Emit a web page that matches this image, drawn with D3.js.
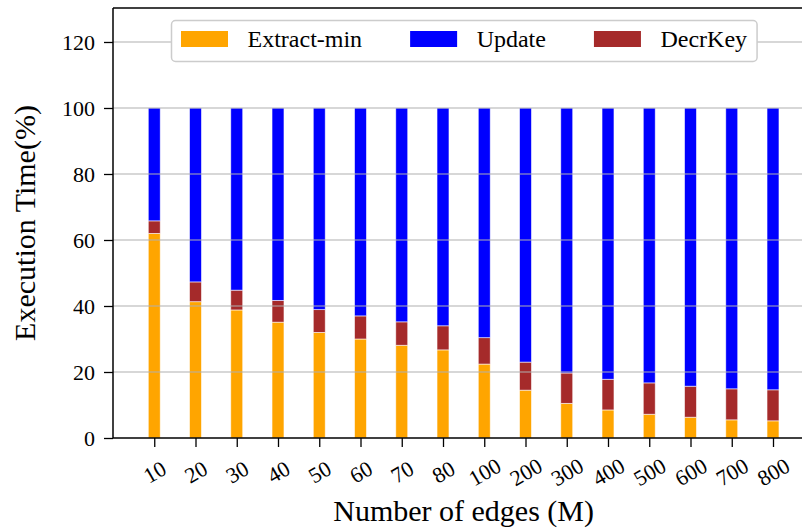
<!DOCTYPE html>
<html>
<head>
<meta charset="utf-8">
<script src="https://cdn.jsdelivr.net/npm/d3@7/dist/d3.min.js"></script>
<style>
  html, body { margin: 0; padding: 0; background: #fff; }
  svg { display: block; }
  svg text { font-family: "Liberation Serif", "Times New Roman", serif; fill: #000; }
</style>
</head>
<body>
<svg id="chart" width="802" height="532"></svg>
<script>
// Edge counts (millions) on the x axis
const categories = ["10", "20", "30", "40", "50", "60", "70", "80", "100", "200", "300", "400", "500", "600", "700", "800"];
// Share of execution time (%) per phase
const extractMin = [62.0, 41.3, 38.8, 35.1, 32.0, 30.0, 28.1, 26.7, 22.4, 14.5, 10.5, 8.5, 7.2, 6.3, 5.5, 5.2];
const decrKey    = [3.8, 6.0, 6.0, 6.6, 6.9, 7.0, 7.1, 7.3, 8.0, 8.5, 9.2, 9.3, 9.5, 9.4, 9.4, 9.4];
const update     = extractMin.map((e, i) => +(100 - e - decrKey[i]).toFixed(1));
const yTicks = [0, 20, 40, 60, 80, 100, 120];

const seriesNames = ["Extract-min", "Update", "DecrKey"];
const seriesColors = { "Extract-min": "#FFA500", "Update": "#0000FF", "DecrKey": "#A52A2A" };

const svg = d3.select("#chart");
const plotLeft = 113, plotTop = 8, plotBottom = 438;
const n = categories.length;
const step = 41.25;
const plotRight = plotLeft + step * (n + 1);

const x = d3.scaleLinear().domain([-1, n]).range([plotLeft, plotRight]);
const y = d3.scaleLinear().domain([0, 130.3]).range([plotBottom, plotTop]);
const barW = step * 0.29;

// stacked layers: Extract-min at the bottom, then DecrKey, then Update
const rows = categories.map((c, i) => ({ i, "Extract-min": extractMin[i], "DecrKey": decrKey[i], "Update": update[i] }));
const stack = d3.stack().keys(["Extract-min", "DecrKey", "Update"]);
const layers = stack(rows);

const plot = svg.append("g");
plot.selectAll("g.layer").data(layers).join("g")
  .attr("class", "layer")
  .attr("fill", d => seriesColors[d.key])
  .selectAll("rect").data(d => d).join("rect")
  .attr("x", d => x(d.data.i) - barW / 2)
  .attr("width", barW)
  .attr("y", d => y(d[1]))
  .attr("height", d => y(d[0]) - y(d[1]))
  .attr("stroke", "#fff")
  .attr("stroke-opacity", 0.7)
  .attr("stroke-width", 0.8);

// horizontal grid, drawn over the bars
svg.append("g").selectAll("line").data(yTicks.filter(t => t > 0)).join("line")
  .attr("x1", plotLeft).attr("x2", plotRight)
  .attr("y1", d => y(d)).attr("y2", d => y(d))
  .attr("stroke", "#b0b0b0").attr("stroke-width", 1.2);

// y axis
const yAxis = svg.append("g").attr("transform", `translate(${plotLeft},0)`)
  .call(d3.axisLeft(y).tickValues(yTicks).tickSize(9).tickPadding(9));
yAxis.select(".domain").remove();
yAxis.selectAll(".tick line").attr("stroke", "#000").attr("stroke-width", 1.3);
yAxis.selectAll(".tick text").style("font-size", "22px");

// x axis
const xAxis = svg.append("g").attr("transform", `translate(0,${plotBottom})`)
  .call(d3.axisBottom(x).tickValues(d3.range(n)).tickFormat(i => categories[i]).tickSize(9));
xAxis.select(".domain").remove();
xAxis.selectAll(".tick line").attr("stroke", "#000").attr("stroke-width", 1.3);
xAxis.selectAll(".tick text")
  .style("font-size", "22px")
  .attr("text-anchor", "middle")
  .attr("dominant-baseline", "central")
  .attr("y", 0).attr("dy", null)
  .attr("transform", "translate(0,34) rotate(-30)");

// frame
svg.append("line").attr("x1", plotLeft).attr("x2", plotLeft).attr("y1", plotTop).attr("y2", plotBottom)
  .attr("stroke", "#000").attr("stroke-width", 1.5);
svg.append("line").attr("x1", plotLeft).attr("x2", plotRight).attr("y1", plotBottom).attr("y2", plotBottom)
  .attr("stroke", "#000").attr("stroke-width", 1.5);
svg.append("line").attr("x1", plotLeft).attr("x2", plotRight).attr("y1", plotTop).attr("y2", plotTop)
  .attr("stroke", "#000").attr("stroke-width", 1.5);

// axis titles
svg.append("text")
  .attr("transform", `translate(35,${(plotTop + plotBottom) / 2}) rotate(-90)`)
  .attr("text-anchor", "middle").style("font-size", "30px")
  .text("Execution Time(%)");
svg.append("text")
  .attr("x", (plotLeft + plotRight) / 2).attr("y", 521)
  .attr("text-anchor", "middle").style("font-size", "30px")
  .text("Number of edges (M)");

// legend
const legend = svg.append("g");
const box = legend.append("rect")
  .attr("x", 171.5).attr("y", 20.5).attr("height", 41).attr("rx", 4)
  .attr("fill", "#fff").attr("stroke", "#cccccc").attr("stroke-width", 1.5);
let cx = 181;
seriesNames.forEach(name => {
  legend.append("rect").attr("x", cx).attr("y", 31).attr("width", 47).attr("height", 16)
    .attr("fill", seriesColors[name]);
  const t = legend.append("text").attr("x", cx + 66.5).attr("y", 47)
    .style("font-size", "24px").text(name);
  cx = cx + 66.5 + t.node().getComputedTextLength() + 48;
});
box.attr("width", cx - 48 + 10 - 171.5);
</script>
</body>
</html>
